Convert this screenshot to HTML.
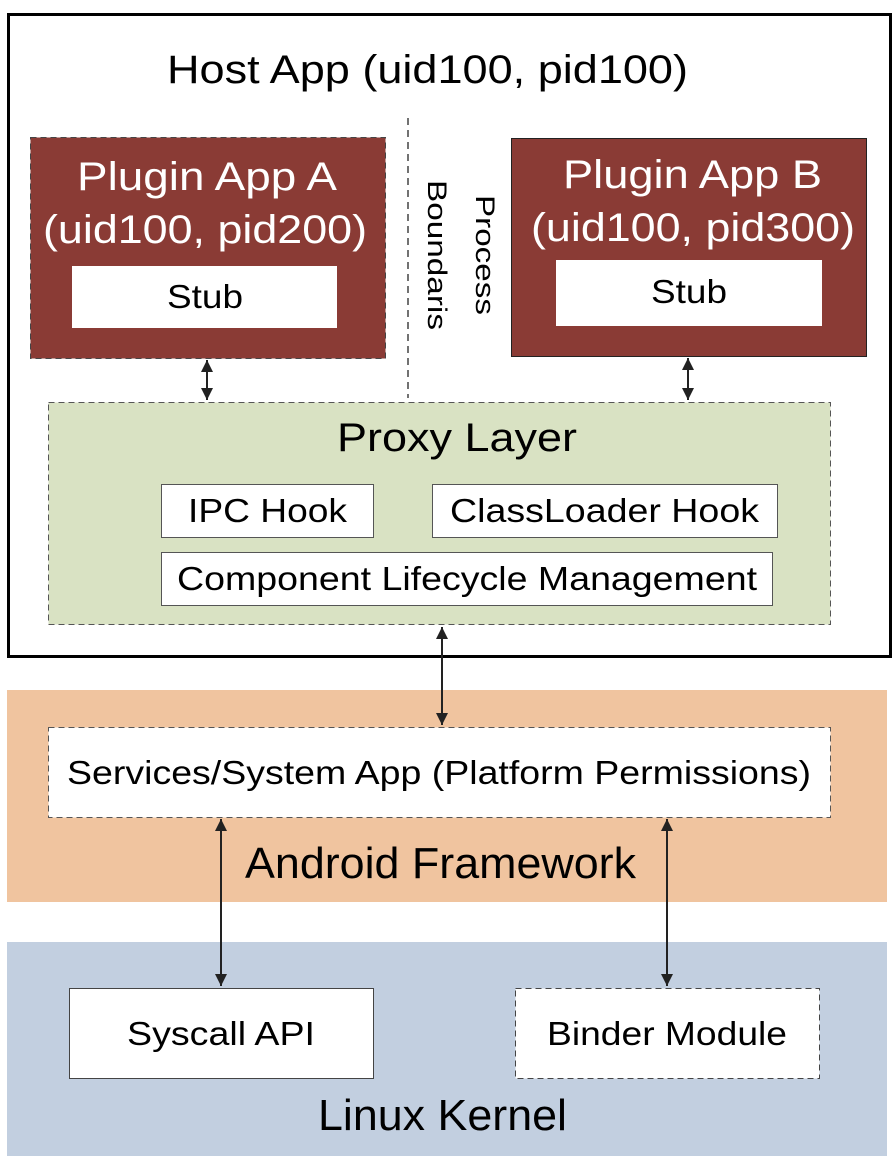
<!DOCTYPE html>
<html><head><style>body{margin:0;background:#fff}svg{display:block}text{font-family:"Liberation Sans",sans-serif}</style></head><body>
<svg width="894" height="1164" viewBox="0 0 894 1164" xmlns="http://www.w3.org/2000/svg">
<defs>
<marker id="a" viewBox="0 0 10 10" refX="10" refY="5" markerWidth="7" markerHeight="6" orient="auto-start-reverse"><path d="M0,0 L10,5 L0,10 z" fill="#222"/></marker>
</defs>
<rect x="8.5" y="14.5" width="882" height="642" fill="#fff" stroke="#000" stroke-width="3"/>
<text x="167" y="83" font-size="40" textLength="521" lengthAdjust="spacingAndGlyphs">Host App (uid100, pid100)</text>
<rect x="30.5" y="137.5" width="355" height="221" fill="#8A3B35" stroke="#444" stroke-dasharray="6,4"/>
<text x="77" y="190" font-size="40" fill="#fff" textLength="260" lengthAdjust="spacingAndGlyphs">Plugin App A</text>
<text x="43" y="243" font-size="40" fill="#fff" textLength="324" lengthAdjust="spacingAndGlyphs">(uid100, pid200)</text>
<rect x="72" y="266" width="265" height="62" fill="#fff"/>
<text x="167" y="308" font-size="33" textLength="76" lengthAdjust="spacingAndGlyphs">Stub</text>
<line x1="408" y1="118" x2="408" y2="398" stroke="#444" stroke-width="1.5" stroke-dasharray="7,5"/>
<text transform="translate(476,195) rotate(90)" font-size="27" textLength="120" lengthAdjust="spacingAndGlyphs">Process</text>
<text transform="translate(428,180) rotate(90)" font-size="27" textLength="150" lengthAdjust="spacingAndGlyphs">Boundaris</text>
<rect x="511.5" y="138.5" width="355" height="218" fill="#8A3B35" stroke="#222"/>
<text x="563" y="188" font-size="40" fill="#fff" textLength="259" lengthAdjust="spacingAndGlyphs">Plugin App B</text>
<text x="531" y="241" font-size="40" fill="#fff" textLength="324" lengthAdjust="spacingAndGlyphs">(uid100, pid300)</text>
<rect x="556" y="260" width="266" height="66" fill="#fff"/>
<text x="651" y="303" font-size="33" textLength="76" lengthAdjust="spacingAndGlyphs">Stub</text>
<rect x="48.5" y="402.5" width="782" height="222" fill="#D9E2C3" stroke="#555" stroke-dasharray="6,4"/>
<line x1="207" y1="360" x2="207" y2="400" stroke="#222" stroke-width="2" marker-start="url(#a)" marker-end="url(#a)"/>
<line x1="688" y1="358" x2="688" y2="400" stroke="#222" stroke-width="2" marker-start="url(#a)" marker-end="url(#a)"/>
<text x="337" y="451" font-size="40" textLength="240" lengthAdjust="spacingAndGlyphs">Proxy Layer</text>
<rect x="161.5" y="484.5" width="212" height="53" fill="#fff" stroke="#555"/>
<text x="188" y="522" font-size="33" textLength="159" lengthAdjust="spacingAndGlyphs">IPC Hook</text>
<rect x="432.5" y="484.5" width="345" height="53" fill="#fff" stroke="#555"/>
<text x="450" y="522" font-size="33" textLength="309" lengthAdjust="spacingAndGlyphs">ClassLoader Hook</text>
<rect x="161.5" y="552.5" width="611" height="53" fill="#fff" stroke="#555"/>
<text x="177" y="590" font-size="33" textLength="580" lengthAdjust="spacingAndGlyphs">Component Lifecycle Management</text>
<rect x="7" y="690" width="880" height="212" fill="#F0C49F"/>
<rect x="48.5" y="727.5" width="782" height="90" fill="#fff" stroke="#555" stroke-dasharray="6,4"/>
<text x="67" y="784" font-size="33" textLength="744" lengthAdjust="spacingAndGlyphs">Services/System App (Platform Permissions)</text>
<text x="245" y="878" font-size="44" textLength="391" lengthAdjust="spacingAndGlyphs">Android Framework</text>
<rect x="7" y="942" width="880" height="214" fill="#C2CFE0"/>
<rect x="69.5" y="988.5" width="304" height="90" fill="#fff" stroke="#444"/>
<text x="127" y="1045" font-size="33" textLength="188" lengthAdjust="spacingAndGlyphs">Syscall API</text>
<rect x="515.5" y="988.5" width="304" height="90" fill="#fff" stroke="#444" stroke-dasharray="6,4"/>
<text x="547" y="1045" font-size="33" textLength="240" lengthAdjust="spacingAndGlyphs">Binder Module</text>
<text x="318" y="1130" font-size="44" textLength="249" lengthAdjust="spacingAndGlyphs">Linux Kernel</text>
<line x1="442" y1="627" x2="442" y2="725" stroke="#222" stroke-width="2" marker-start="url(#a)" marker-end="url(#a)"/>
<line x1="221" y1="819" x2="221" y2="986" stroke="#222" stroke-width="2" marker-start="url(#a)" marker-end="url(#a)"/>
<line x1="667" y1="819" x2="667" y2="986" stroke="#222" stroke-width="2" marker-start="url(#a)" marker-end="url(#a)"/>
</svg>
</body></html>
